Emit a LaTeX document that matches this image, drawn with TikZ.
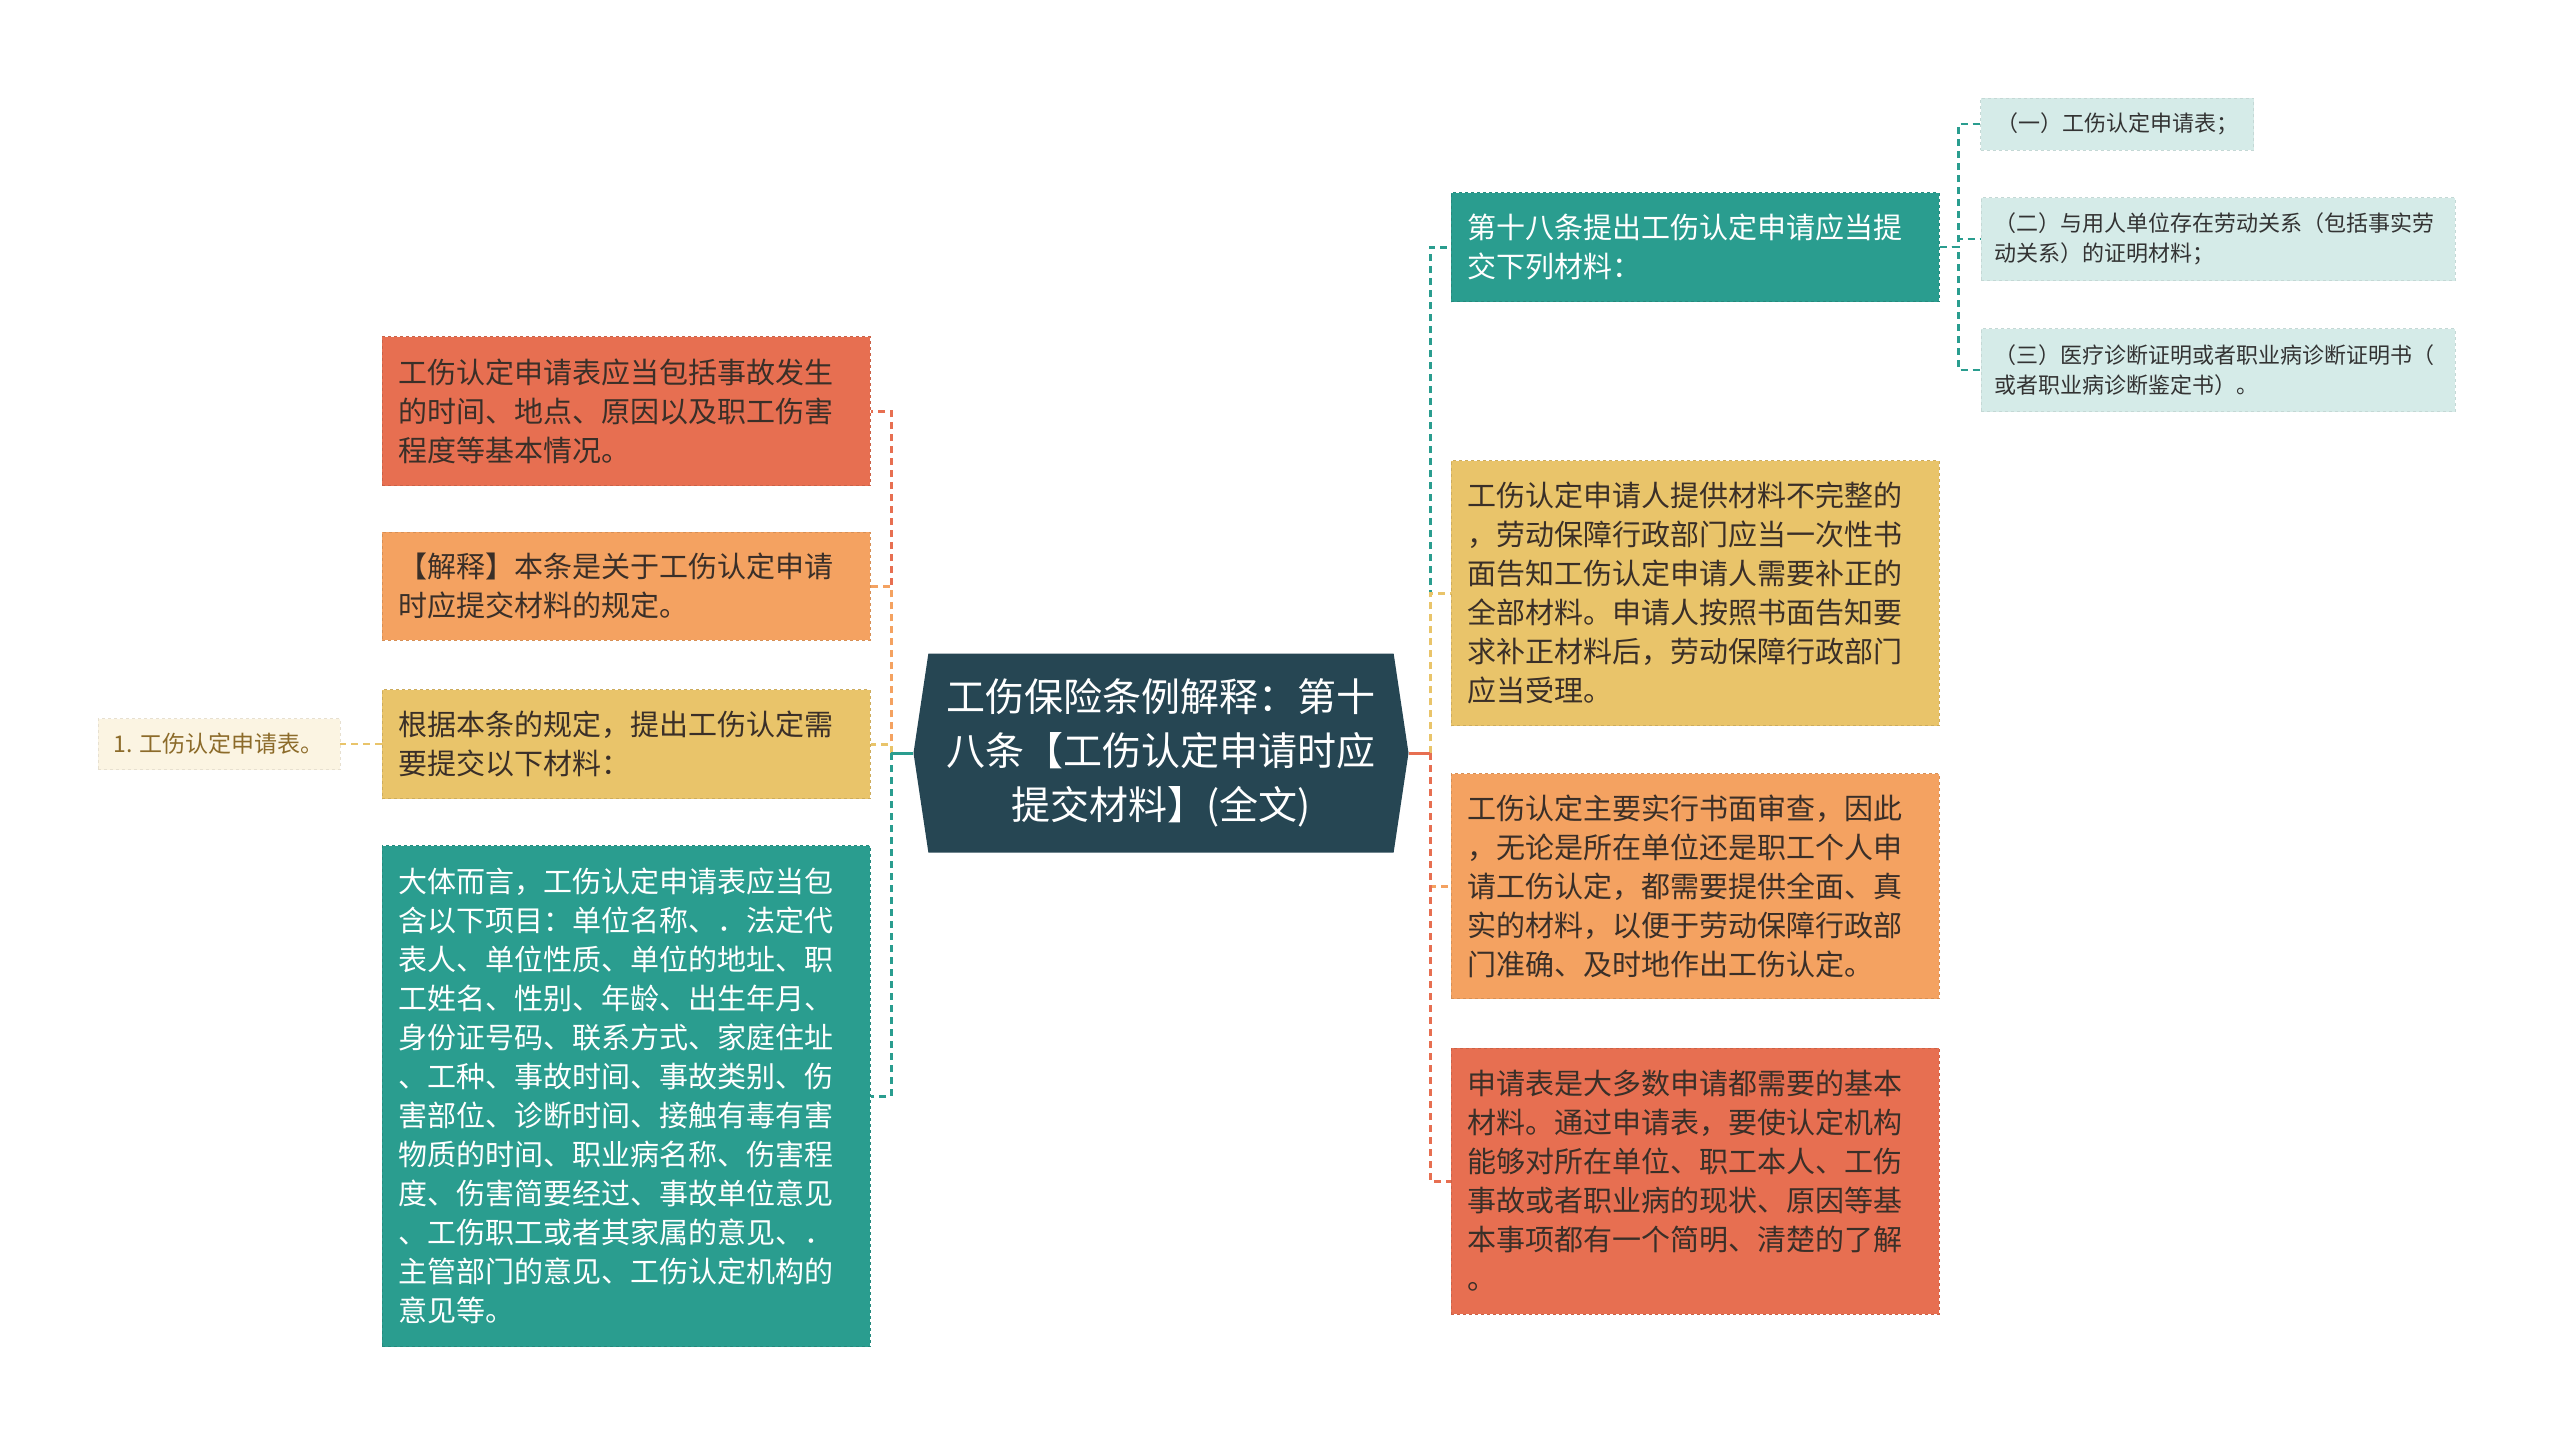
\documentclass[tikz,border=0pt]{standalone}
\usepackage{fontspec}
\setmainfont{Noto Sans CJK SC}
\usetikzlibrary{shapes.symbols}

\definecolor{cDark}{HTML}{264653}
\definecolor{cTeal}{HTML}{2A9D8F}
\definecolor{cYellow}{HTML}{E9C46A}
\definecolor{cOrange}{HTML}{F4A261}
\definecolor{cRed}{HTML}{E76F51}
\definecolor{cLeafTeal}{HTML}{D5EBE8}
\definecolor{cLeafCream}{HTML}{FBF4E2}
\definecolor{cInk}{HTML}{3A2F28}
\definecolor{cLeafInk}{HTML}{8C6B2A}

\begin{document}
\begin{tikzpicture}[x=1pt,y=-1pt,
    box/.style={rectangle,draw=#1!88!black,dashed,line width=1pt,fill=#1,text=cInk,
        align=left,text width=456pt,inner xsep=16pt,inner ysep=0pt,
        font=\fontsize{29}{39}\selectfont},
    whitetext/.style={text=white},
    leafbox/.style={rectangle,draw=#1!92!black,dashed,line width=0.8pt,fill=#1,text=black!80,
        align=left,inner xsep=13pt,inner ysep=0pt,font=\fontsize{22}{30}\selectfont},
    link/.style={draw=#1,dash pattern=on 7pt off 5pt,line width=3pt},
    stub/.style={draw=#1,line width=3pt}]

    \fill[white] (0,0) rectangle (2560,1445);
    \useasboundingbox (0,0) rectangle (2560,1445);

    % centre
    \node[signal,signal to=west and east,signal pointer angle=163,fill=cDark,text=white,
        minimum width=495pt,minimum height=199pt,align=center,inner xsep=2pt,
        font=\fontsize{39}{54}\selectfont] (root) at (1161,753)
        {工伤保险条例解释：第十\\八条【工伤认定申请时应\\提交材料】(全文)};

    % left side
    \node[box=cRed,minimum height=149pt] (legal) at (626,411)
        {工伤认定申请表应当包括事故发生\\的时间、地点、原因以及职工伤害\\程度等基本情况。};
    \node[box=cOrange,minimum height=108pt] (explain) at (626,586)
        {【解释】本条是关于工伤认定申请\\时应提交材料的规定。};
    \node[box=cYellow,minimum height=109pt] (submit) at (626,744)
        {根据本条的规定，提出工伤认定需\\要提交以下材料：};
    \node[box=cTeal,whitetext,minimum height=501pt] (items) at (626,1096)
        {大体而言，工伤认定申请表应当包\\含以下项目：单位名称、．法定代\\表人、单位性质、单位的地址、职\\工姓名、性别、年龄、出生年月、\\身份证号码、联系方式、家庭住址\\、工种、事故时间、事故类别、伤\\害部位、诊断时间、接触有毒有害\\物质的时间、职业病名称、伤害程\\度、伤害简要经过、事故单位意见\\、工伤职工或者其家属的意见、．\\主管部门的意见、工伤认定机构的\\意见等。};
    \node[leafbox=cLeafCream,text=cLeafInk,minimum width=242pt,minimum height=51pt,
        font=\fontsize{23}{30}\selectfont] (form) at (219,744) {1. 工伤认定申请表。};

    % right side
    \node[box=cTeal,whitetext,minimum height=109pt] (article) at (1695,247)
        {第十八条提出工伤认定申请应当提\\交下列材料：};
    \node[box=cYellow,minimum height=265pt] (incomplete) at (1695,593)
        {工伤认定申请人提供材料不完整的\\，劳动保障行政部门应当一次性书\\面告知工伤认定申请人需要补正的\\全部材料。申请人按照书面告知要\\求补正材料后，劳动保障行政部门\\应当受理。};
    \node[box=cOrange,minimum height=225pt] (review) at (1695,886)
        {工伤认定主要实行书面审查，因此\\，无论是所在单位还是职工个人申\\请工伤认定，都需要提供全面、真\\实的材料，以便于劳动保障行政部\\门准确、及时地作出工伤认定。};
    \node[box=cRed,minimum height=266pt] (basic) at (1695,1181)
        {申请表是大多数申请都需要的基本\\材料。通过申请表，要使认定机构\\能够对所在单位、职工本人、工伤\\事故或者职业病的现状、原因等基\\本事项都有一个简明、清楚的了解\\。};

    \node[leafbox=cLeafTeal,minimum width=273pt,minimum height=52pt] (mat1) at (2117,124)
        {（一）工伤认定申请表；};
    \node[leafbox=cLeafTeal,text width=448pt,minimum height=83pt] (mat2) at (2218,239)
        {（二）与用人单位存在劳动关系（包括事实劳\\动关系）的证明材料；};
    \node[leafbox=cLeafTeal,text width=448pt,minimum height=83pt] (mat3) at (2218,370)
        {（三）医疗诊断证明或者职业病诊断证明书（\\或者职业病诊断鉴定书）。};

    % connectors
    \coordinate (lspine) at (891,753);
    \coordinate (rspine) at (1430,753);

    \draw[link=cRed] (lspine) |- (legal.east);
    \draw[link=cOrange] (lspine) |- (explain.east);
    \draw[link=cYellow] (lspine) |- (submit.east);
    \draw[link=cTeal] (lspine) |- (items.east);
    \draw[stub=cTeal] (root.west) -- (lspine);

    \draw[link=cTeal] (rspine) |- (article.west);
    \draw[link=cYellow] (rspine) |- (incomplete.west);
    \draw[link=cOrange] (rspine) |- (review.west);
    \draw[link=cRed] (rspine) |- (basic.west);
    \draw[stub=cRed] (root.east) -- (rspine);

    \draw[link=cYellow,line width=2.2pt] (submit.west) -- (form.east);

    \draw[link=cTeal,line width=2.2pt] (article.east) -- ++(19,0) |- (mat1.west);
    \draw[link=cTeal,line width=2.2pt] (article.east) -- ++(19,0) |- (mat2.west);
    \draw[link=cTeal,line width=2.2pt] (article.east) -- ++(19,0) |- (mat3.west);

\end{tikzpicture}
\end{document}
